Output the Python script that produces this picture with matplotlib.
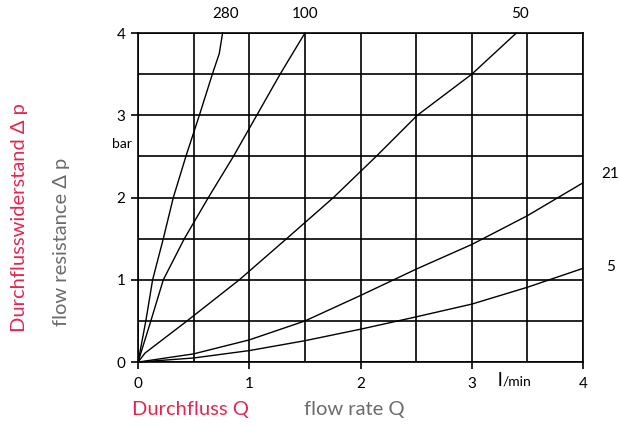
import matplotlib.pyplot as plt

plt.rcParams['font.family'] = ['Lato', 'DejaVu Sans']

RED = '#e4264f'
GREY = '#6b6b6b'

# flow rate Q (l/min) and pressure drop (bar) for each filter curve
q_280 = [0, 0.07, 0.131, 0.227, 0.317, 0.43, 0.551, 0.668, 0.73, 0.76]
p_280 = [0, 0.5, 1.0, 1.5, 2.0, 2.5, 3.0, 3.5, 3.75, 4.0]

q_100 = [0, 0.115, 0.227, 0.416, 0.632, 0.857, 1.067, 1.277, 1.5]
p_100 = [0, 0.5, 1.0, 1.5, 2.0, 2.5, 3.0, 3.5, 4.0]

q_50 = [0, 0.063, 0.44, 0.91, 1.335, 1.756, 2.14, 2.51, 3.0, 3.40]
p_50 = [0, 0.11, 0.5, 1.0, 1.5, 2.0, 2.5, 3.0, 3.5, 4.0]

q_21 = [0, 0.5, 1.0, 1.5, 2.0, 2.5, 3.0, 3.5, 4.0]
p_21 = [0, 0.10, 0.27, 0.50, 0.81, 1.13, 1.43, 1.78, 2.18]

q_5 = [0, 0.5, 1.0, 1.5, 2.0, 2.5, 3.0, 3.5, 4.0]
p_5 = [0, 0.05, 0.14, 0.26, 0.40, 0.55, 0.705, 0.91, 1.14]

fig = plt.figure(figsize=(6.19, 4.26), dpi=100)
ax = fig.add_axes([0.223, 0.150, 0.719, 0.7725])

for q, p in [(q_280, p_280), (q_100, p_100), (q_50, p_50), (q_21, p_21), (q_5, p_5)]:
    ax.plot(q, p, color='black', lw=1.0, clip_on=False)

ax.set_xlim(0, 4)
ax.set_ylim(0, 4)
ax.set_xticks([0, 1, 2, 3, 4])
ax.set_yticks([0, 1, 2, 3, 4])
ax.set_xticks([0.5, 1.5, 2.5, 3.5], minor=True)
ax.set_yticks([0.5, 1.5, 2.5, 3.5], minor=True)
ax.tick_params(which='major', length=5, width=1.2, labelsize=11, colors='black')
ax.tick_params(which='minor', length=0)
ax.tick_params(axis='x', pad=6)
ax.tick_params(axis='y', pad=4)
ax.grid(True, which='both', color='black', lw=1.2)
for s in ax.spines.values():
    s.set_linewidth(1.2)

# curve labels
ax.text(0.79, 4.15, '280', ha='center', va='bottom', fontsize=11)
ax.text(1.5, 4.15, '100', ha='center', va='bottom', fontsize=11)
ax.text(3.43, 4.15, '50', ha='center', va='bottom', fontsize=11)
ax.text(4.165, 2.29, '21', ha='left', va='center', fontsize=11)
ax.text(4.21, 1.16, '5', ha='left', va='center', fontsize=11)

# units
ax.text(-0.145, 2.65, 'bar', ha='center', va='center', fontsize=10)
ax.text(3.27, -0.22, 'l', ha='right', va='center', fontsize=14)
ax.text(3.28, -0.24, '/min', ha='left', va='center', fontsize=10)

# axis titles
fig.text(190 / 619, 1 - 410 / 426, 'Durchfluss Q', color=RED, fontsize=14.5,
         ha='center', va='center')
fig.text(354 / 619, 1 - 410 / 426, 'flow rate Q', color=GREY, fontsize=14.5,
         ha='center', va='center')
fig.text(20 / 619, 1 - 218 / 426, 'Durchflusswiderstand \u0394 p', color=RED,
         fontsize=14.5, rotation=90, ha='center', va='center')
fig.text(62 / 619, 1 - 242 / 426, 'flow resistance \u0394 p', color=GREY,
         fontsize=14.5, rotation=90, ha='center', va='center')

fig.savefig('out.png', dpi=100)
